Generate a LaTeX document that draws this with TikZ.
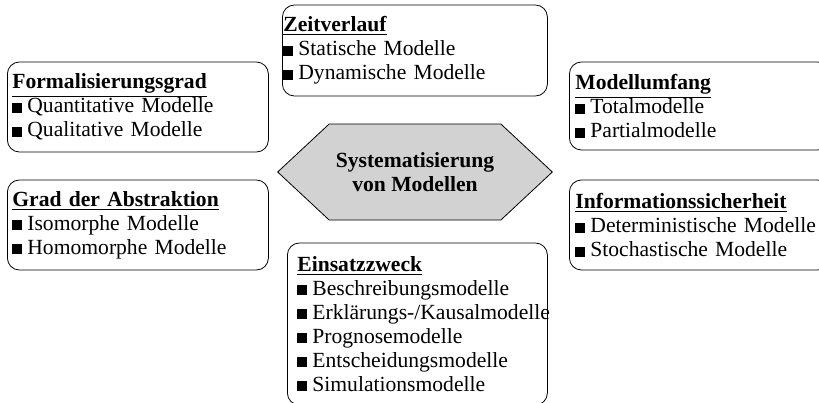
\documentclass[tikz,border=0pt]{standalone}
\usepackage{fontspec}
\setmainfont{Liberation Serif}
\usepackage{tikz}
\usetikzlibrary{positioning,shapes.symbols}

\newcommand{\bl}{\rule{5pt}{5pt}\hspace{2.5pt}}
\tikzset{kat/.style={draw,rounded corners=6pt,align=left,anchor=west,
  inner ysep=0pt,font=\fontsize{10.8}{12}\selectfont}}

\begin{document}
\begin{tikzpicture}[x=0.5pt,y=-0.5pt]
    \useasboundingbox (0,0) rectangle (819,402);
    \clip (0,0) rectangle (819,402);
    \node[draw,fill=gray!35,signal,signal to=west and east,signal pointer angle=86,
      minimum width=134.5pt,minimum height=48pt,align=center,
      font=\fontsize{10.8}{12}\selectfont\bfseries]
      (sys) at (415,172) {Systematisierung\\von Modellen};
    \node[kat,inner xsep=2.5pt,text width=125.5pt,minimum height=45pt] (form) at (7,107)
      {\underline{\textbf{Formalisierungsgrad}}\\\bl Quantitative Modelle\\\bl Qualitative Modelle};
    \node[kat,inner xsep=2.5pt,text width=125.5pt,minimum height=45pt] (abst) at (7,225)
      {\underline{\textbf{Grad der Abstraktion}}\\\bl Isomorphe Modelle\\\bl Homomorphe Modelle};
    \node[kat,inner xsep=0.5pt,text width=131.5pt,minimum height=45.5pt] (zeit) at (282,50.5)
      {\underline{\textbf{Zeitverlauf}}\\\bl Statische Modelle\\\bl Dynamische Modelle};
    \node[kat,inner xsep=3pt,text width=124pt,minimum height=44pt] (umf) at (569,106)
      {\underline{\textbf{Modellumfang}}\\\bl Totalmodelle\\\bl Partialmodelle};
    \node[kat,inner xsep=3pt,text width=124pt,minimum height=45pt] (info) at (569,225)
      {\underline{\textbf{Informationssicherheit}}\\\bl Deterministische Modelle\\\bl Stochastische Modelle};
    \node[kat,inner xsep=5pt,text width=120pt,minimum height=81pt] (einsatz) at (287,324)
      {\underline{\textbf{Einsatzzweck}}\\\bl Beschreibungsmodelle\\\mbox{\bl Erklärungs-/Kausalmodelle}\\
       \bl Prognosemodelle\\\bl Entscheidungsmodelle\\\bl Simulationsmodelle};
\end{tikzpicture}
\end{document}
